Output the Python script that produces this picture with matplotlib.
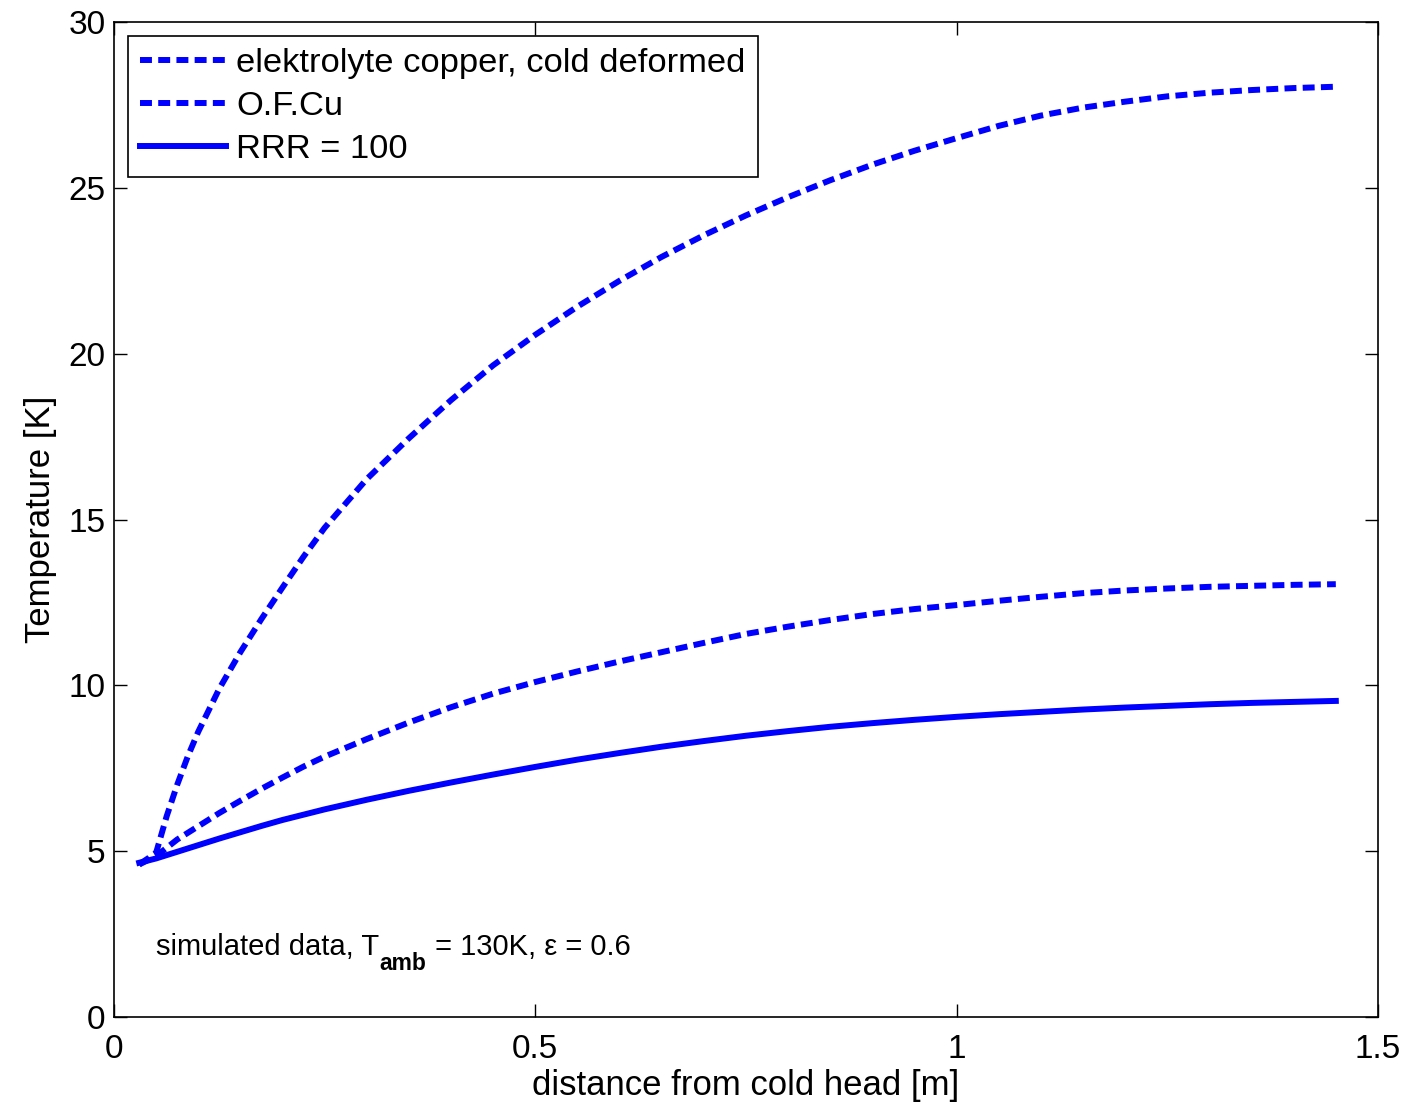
import matplotlib
matplotlib.use('Agg')
import matplotlib.pyplot as plt

# distance from cold head [m]
distance = [0.03, 0.05, 0.0625, 0.075, 0.0875, 0.1, 0.125, 0.15, 0.175, 0.2, 0.225, 0.25,
            0.3, 0.35, 0.4, 0.45, 0.5, 0.55, 0.6, 0.65, 0.7, 0.75, 0.8, 0.85, 0.9, 0.95,
            1.0, 1.05, 1.1, 1.15, 1.2, 1.25, 1.3, 1.35, 1.4, 1.45]

# temperature [K] for each conductor
t_elektrolyte = [4.6, 4.95, 6.05, 7.0, 7.85, 8.6, 9.9, 11.0, 12.0, 12.95, 13.88, 14.75,
                 16.22, 17.45, 18.6, 19.65, 20.57, 21.42, 22.2, 22.92, 23.57, 24.17, 24.72,
                 25.23, 25.7, 26.12, 26.5, 26.87, 27.18, 27.42, 27.6, 27.76, 27.87, 27.95,
                 28.01, 28.05]
t_ofcu = [4.6, 4.85, 5.1, 5.35, 5.55, 5.75, 6.15, 6.52, 6.88, 7.22, 7.55, 7.85,
          8.38, 8.88, 9.34, 9.75, 10.1, 10.42, 10.72, 11.0, 11.28, 11.55, 11.77,
          11.97, 12.15, 12.3, 12.42, 12.55, 12.67, 12.78, 12.86, 12.92, 12.97, 13.0,
          13.03, 13.05]
t_rrr100 = [4.65, 4.78, 4.88, 4.98, 5.08, 5.18, 5.38, 5.57, 5.76, 5.94, 6.1, 6.26,
            6.55, 6.82, 7.07, 7.31, 7.54, 7.76, 7.96, 8.15, 8.32, 8.48, 8.62,
            8.75, 8.86, 8.96, 9.05, 9.13, 9.2, 9.27, 9.33, 9.38, 9.43, 9.47,
            9.5, 9.53]

labels = ['elektrolyte copper, cold deformed', 'O.F.Cu', 'RRR = 100']

plt.rcParams['font.family'] = ['Liberation Sans', 'DejaVu Sans']

fig = plt.figure(figsize=(14.21, 11.03), dpi=100)
ax = fig.add_axes([0.0802, 0.078, 0.8895, 0.902])

dash = (0, (2.0, 1.05))
ax.plot(distance, t_elektrolyte, color='#0000ff', lw=4.3, ls=dash, label=labels[0])
ax.plot(distance, t_ofcu, color='#0000ff', lw=4.3, ls=dash, label=labels[1])
ax.plot(distance, t_rrr100, color='#0000ff', lw=4.3, ls='-', label=labels[2])

ax.set_xlim(0, 1.5)
ax.set_ylim(0, 30)
ax.set_xticks([0, 0.5, 1, 1.5])
ax.set_xticklabels(['0', '0.5', '1', '1.5'])
ax.set_yticks([0, 5, 10, 15, 20, 25, 30])
ax.tick_params(direction='in', length=9.5, width=1, top=True, right=True, labelsize=24)
ax.tick_params(axis='x', pad=12)
ax.tick_params(axis='y', pad=6)
for s in ax.spines.values():
    s.set_linewidth(1.2)

ax.set_xlabel('distance from cold head [m]', fontsize=25, labelpad=3)
ax.set_ylabel('Temperature [K]', fontsize=25, labelpad=8)

# note with bold subscript, built from three pieces
y_note = 1.87
t1 = ax.text(0.0498, y_note, 'simulated data, T', fontsize=21, va='baseline')
t2 = ax.annotate('amb', xy=(1, y_note), xycoords=(t1, 'data'), xytext=(0.5, -11),
                 textcoords='offset points', fontsize=16.5, fontweight='bold', va='baseline')
ax.annotate(' = 130K, ε = 0.6', xy=(1, y_note), xycoords=(t2, 'data'),
            fontsize=21, va='baseline')

leg = ax.legend(loc='upper left', fontsize=24.8, handlelength=2.5, handletextpad=0.28,
                labelspacing=0.34, borderaxespad=0.4, fancybox=False,
                framealpha=1, edgecolor='black', borderpad=0.36)
leg.get_frame().set_linewidth(1.2)

fig.savefig('out.png', dpi=100)
